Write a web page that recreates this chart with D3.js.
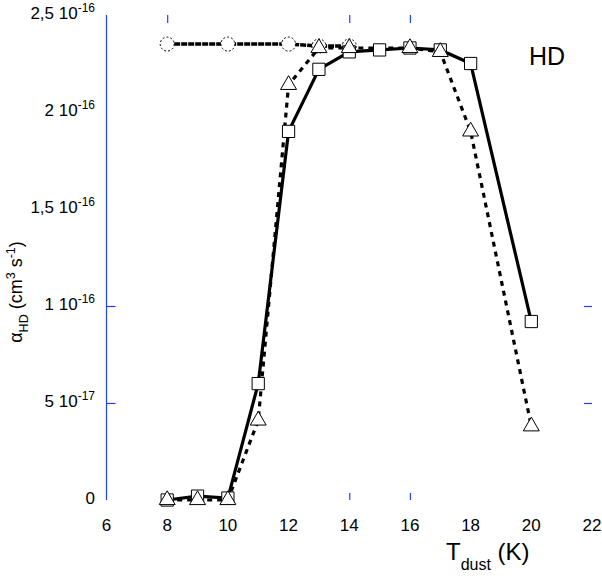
<!DOCTYPE html>
<html>
<head>
<meta charset="utf-8">
<script src="https://cdn.jsdelivr.net/npm/d3@7"></script>
<style>
  html, body { margin: 0; padding: 0; background: #fff; }
  svg { display: block; }
  text { font-family: "Liberation Sans", Arial, Helvetica, sans-serif; fill: #000; }
</style>
</head>
<body>
<svg id="chart" width="602" height="579"></svg>
<script>
// ---------- data ----------
const tSolid = [8, 9, 10, 11, 12, 13, 14, 15, 16, 17, 18, 20];
const aSolid = [0, 0.02e-16, 0.01e-16, 0.60e-16, 1.90e-16, 2.22e-16, 2.31e-16, 2.32e-16, 2.33e-16, 2.32e-16, 2.25e-16, 0.92e-16];

const tDash = [8, 9, 10, 11, 12, 13, 14, 16, 17, 18, 20];
const aDash = [0, 0, 0, 0.41e-16, 2.14e-16, 2.33e-16, 2.33e-16, 2.33e-16, 2.31e-16, 1.90e-16, 0.38e-16];

const tCirc = [8, 10, 12, 13, 14];
const aCirc = [2.35e-16, 2.35e-16, 2.35e-16, 2.34e-16, 2.34e-16];

const xTickValues = [6, 8, 10, 12, 14, 16, 18, 20, 22];
const yTickValues = [0, 5e-17, 1e-16, 1.5e-16, 2e-16, 2.5e-16];
const yTickMant = ["0", "5", "1", "1,5", "2", "2,5"];
const yTickExp  = ["", "-17", "-16", "-16", "-16", "-16"];
const topTickValues = [8, 14, 16];
const bottomTickValues = [14, 16];
const sideTickValues = [5e-17, 1e-16];

// ---------- layout ----------
const svg = d3.select("#chart");
const x = d3.scaleLinear().domain([6, 22]).range([106.5, 592]);
const y = d3.scaleLinear().domain([0, 2.5e-16]).range([500, 15]);
const blue = "#2040ff";

// left axis line
svg.append("line")
  .attr("x1", x(6)).attr("x2", x(6))
  .attr("y1", y(2.5e-16)).attr("y2", y(0))
  .attr("stroke", blue).attr("stroke-width", 1.2);

function styleAxis(g) {
  g.select(".domain").remove();
  g.selectAll(".tick line").attr("stroke", blue).attr("stroke-width", 1.2);
  g.selectAll(".tick text").remove();
}

svg.append("g").attr("transform", `translate(${x(6)},0)`)
  .call(d3.axisRight(y).tickValues(sideTickValues).tickSize(9)).call(styleAxis);
svg.append("g").attr("transform", `translate(${x(22)},0)`)
  .call(d3.axisLeft(y).tickValues(sideTickValues).tickSize(8)).call(styleAxis);
svg.append("g").attr("transform", `translate(0,${y(2.5e-16)})`)
  .call(d3.axisBottom(x).tickValues(topTickValues).tickSize(8)).call(styleAxis);
svg.append("g").attr("transform", `translate(0,${y(0)})`)
  .call(d3.axisTop(x).tickValues(bottomTickValues).tickSize(7)).call(styleAxis);

// x tick labels
svg.append("g").selectAll("text").data(xTickValues).join("text")
  .attr("x", d => x(d)).attr("y", 531)
  .attr("text-anchor", "middle").attr("font-size", 17)
  .text(d => d);

// y tick labels
const yl = svg.append("g").selectAll("text").data(yTickValues).join("text")
  .attr("x", 95).attr("y", d => y(d) + 3.5)
  .attr("text-anchor", "end").attr("font-size", 17);
yl.each(function(d, i) {
  const t = d3.select(this);
  if (yTickExp[i] === "") {
    t.text(yTickMant[i]);
  } else {
    t.append("tspan").text(yTickMant[i] + " 10");
    t.append("tspan").attr("dy", -7).attr("font-size", 12).text(yTickExp[i]);
  }
});

// ---------- lines ----------
const lineGen = d3.line().x(d => x(d[0])).y(d => y(d[1]));

svg.append("path")
  .datum(tCirc.map((t, i) => [t, aCirc[i]]))
  .attr("d", lineGen).attr("fill", "none")
  .attr("stroke", "#000").attr("stroke-width", 3.5)
  .attr("stroke-dasharray", "6,1");

svg.append("path")
  .datum(tSolid.map((t, i) => [t, aSolid[i]]))
  .attr("d", lineGen).attr("fill", "none")
  .attr("stroke", "#000").attr("stroke-width", 3.2);

svg.append("path")
  .datum(tDash.map((t, i) => [t, aDash[i]]))
  .attr("d", lineGen).attr("fill", "none")
  .attr("stroke", "#000").attr("stroke-width", 3.2)
  .attr("stroke-dasharray", "5,5");

// ---------- markers ----------
svg.append("g").selectAll("circle").data(tCirc.map((t, i) => [t, aCirc[i]])).join("circle")
  .attr("cx", d => x(d[0])).attr("cy", d => y(d[1])).attr("r", 7)
  .attr("fill", "#fff").attr("stroke", "#000").attr("stroke-width", 1)
  .attr("stroke-dasharray", "2,2");

svg.append("g").selectAll("path").data(tSolid.map((t, i) => [t, aSolid[i]])).join("path")
  .attr("transform", d => `translate(${x(d[0])},${y(d[1])})`)
  .attr("d", d3.symbol().type(d3.symbolSquare).size(150))
  .attr("fill", "#fff").attr("stroke", "#000").attr("stroke-width", 1);

svg.append("g").selectAll("path").data(tDash.map((t, i) => [t, aDash[i]])).join("path")
  .attr("transform", d => `translate(${x(d[0])},${y(d[1])})`)
  .attr("d", d3.symbol().type(d3.symbolTriangle).size(110))
  .attr("fill", "#fff").attr("stroke", "#000").attr("stroke-width", 1);

// ---------- titles ----------
svg.append("text").attr("x", 529).attr("y", 65).attr("font-size", 25).text("HD");

const xt = svg.append("text").attr("x", 446).attr("y", 560).attr("font-size", 24);
xt.append("tspan").text("T");
xt.append("tspan").attr("dy", 10).attr("font-size", 16).text("dust");
xt.append("tspan").attr("dy", -10).text(" (K)");

const yt = svg.append("text")
  .attr("transform", "translate(22,292) rotate(-90)")
  .attr("text-anchor", "middle").attr("font-size", 18);
yt.append("tspan").text("α");
yt.append("tspan").attr("dy", 6).attr("font-size", 12.5).text("HD");
yt.append("tspan").attr("dy", -6).text(" (cm");
yt.append("tspan").attr("dy", -7).attr("font-size", 12.5).text("3");
yt.append("tspan").attr("dy", 7).text(" s");
yt.append("tspan").attr("dy", -7).attr("font-size", 12.5).text("-1");
yt.append("tspan").attr("dy", 7).text(")");
</script>
</body>
</html>
